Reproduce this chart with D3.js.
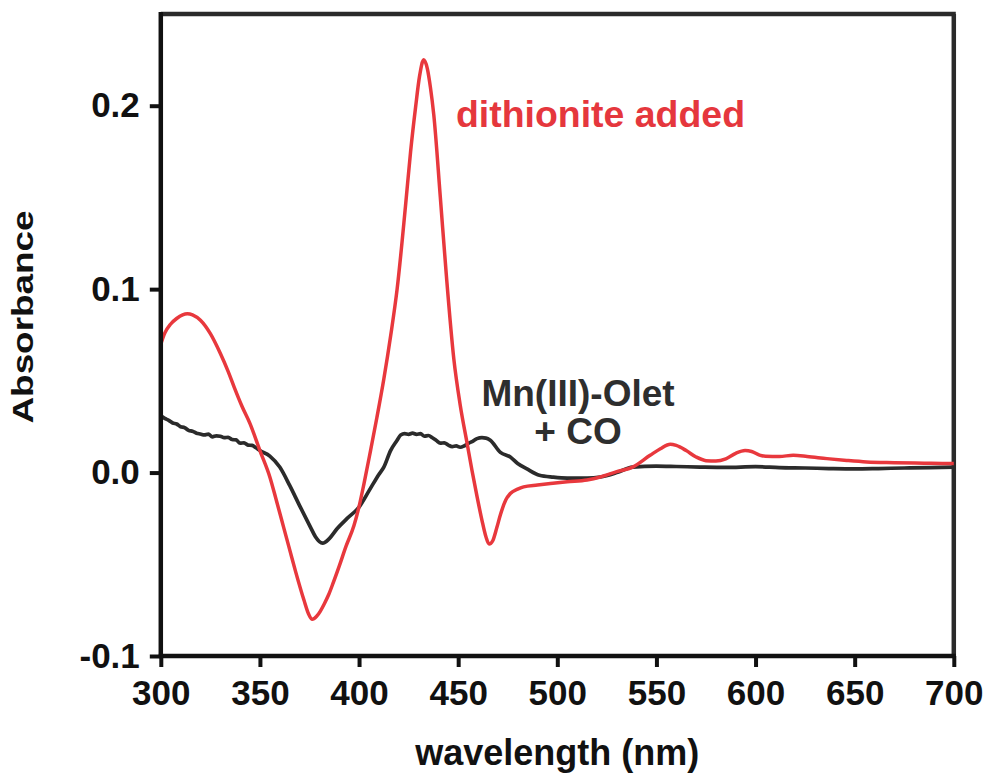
<!DOCTYPE html>
<html>
<head>
<meta charset="utf-8">
<script src="https://cdn.jsdelivr.net/npm/d3@7"></script>
<style>
  html, body { margin: 0; padding: 0; background: #fff; }
  svg { display: block; }
  text { font-family: "Liberation Sans", Arial, Helvetica, sans-serif; font-weight: bold; }
</style>
</head>
<body>
<div id="chart"></div>
<script>
// ---- data ----
const xTicks = [300, 350, 400, 450, 500, 550, 600, 650, 700];
const yTicks = [-0.1, 0.0, 0.1, 0.2];
const yTickLabels = ["-0.1", "0.0", "0.1", "0.2"];

const redWavelength = [300, 302, 305, 308, 311, 313.4, 316, 320, 325, 330, 334, 337, 341, 345, 350, 355, 358, 362, 365, 368, 372.2, 374.5, 376.4, 378.5, 380.5, 382.5, 384.7, 387, 390, 393.5, 397.4, 399.9, 402.5, 405.8, 409, 412.5, 416, 419.2, 423.4, 426, 428.5, 430.5, 432.6, 434.5, 436, 437.7, 441, 444, 447.8, 451, 454.5, 457, 459.5, 462, 464, 465.6, 467.5, 469.5, 471.3, 474, 476.3, 480, 483, 490, 496.5, 505, 515, 521.7, 530, 538, 546.8, 552, 557, 560, 565, 570, 575, 580, 585, 590, 594.7, 598, 602, 605, 612, 619, 626, 636, 646, 656, 670, 685, 698, 700];
const redAbsorbance = [0.070, 0.076, 0.081, 0.084, 0.086, 0.0866, 0.086, 0.083, 0.0757, 0.065, 0.055, 0.0466, 0.036, 0.0267, 0.012, -0.0024, -0.014, -0.030, -0.042, -0.054, -0.0695, -0.077, -0.080, -0.0785, -0.0755, -0.0715, -0.0665, -0.060, -0.051, -0.040, -0.029, -0.019, -0.006, 0.012, 0.030, 0.051, 0.075, 0.100, 0.145, 0.175, 0.199, 0.216, 0.225, 0.220, 0.210, 0.195, 0.150, 0.108, 0.062, 0.037, 0.016, 0.001, -0.013, -0.026, -0.035, -0.039, -0.037, -0.030, -0.023, -0.015, -0.0114, -0.009, -0.0078, -0.0068, -0.006, -0.005, -0.004, -0.0024, 0.0005, 0.003, 0.0094, 0.013, 0.0155, 0.0148, 0.012, 0.0085, 0.0065, 0.0063, 0.0075, 0.0105, 0.012, 0.0115, 0.0095, 0.0089, 0.0088, 0.0094, 0.0088, 0.0076, 0.0066, 0.0058, 0.0054, 0.0051, 0.0049, 0.0049];

const blackWavelength = [300, 302, 304, 306, 308, 310, 312, 314, 316, 318, 320, 322, 324, 326, 328, 330, 332, 334, 336, 338, 340, 342, 344, 346, 348, 350, 355, 360, 365, 370, 375.6, 378, 381.6, 385, 389, 394, 399.9, 405, 410, 412.5, 415.9, 419.2, 421, 423, 425, 427, 429, 431, 433, 435, 437, 439, 441, 443, 445, 447, 449, 451, 453, 455.3, 457.5, 459.5, 462, 464, 466.2, 471.3, 476.3, 480, 484.7, 491, 498, 505, 515, 521.7, 530, 538, 550, 560, 572, 585, 600, 612, 625, 637, 650, 662, 675, 688, 700];
const blackAbsorbance = [0.031, 0.0295, 0.0285, 0.027, 0.0265, 0.025, 0.0245, 0.023, 0.0225, 0.0215, 0.021, 0.0205, 0.021, 0.0195, 0.020, 0.0198, 0.019, 0.0192, 0.018, 0.0178, 0.016, 0.0162, 0.015, 0.0148, 0.0135, 0.012, 0.009, 0.003, -0.007, -0.018, -0.030, -0.035, -0.0385, -0.036, -0.0305, -0.025, -0.019, -0.010, -0.001, 0.003, 0.012, 0.0176, 0.0205, 0.0212, 0.0208, 0.0215, 0.0208, 0.0212, 0.0198, 0.0202, 0.019, 0.0175, 0.016, 0.0162, 0.015, 0.0142, 0.0145, 0.0138, 0.0145, 0.016, 0.0172, 0.0185, 0.019, 0.0188, 0.0176, 0.011, 0.0085, 0.005, 0.002, -0.0015, -0.0025, -0.003, -0.003, -0.0024, 0.000, 0.003, 0.0035, 0.0033, 0.003, 0.0028, 0.0032, 0.0027, 0.0025, 0.0022, 0.002, 0.0022, 0.0025, 0.0027, 0.003];

const xTitle = "wavelength (nm)";
const yTitle = "Absorbance";
const redLabel = "dithionite added";
const blackLabel = ["Mn(III)-Olet", "+ CO"];

// ---- layout ----
const W = 989, H = 776;
const mLeft = 160.8, mRight = 953.8, mTop = 14, mBottom = 656;

const svg = d3.select("#chart").append("svg").attr("width", W).attr("height", H);

const x = d3.scaleLinear().domain([300, 700]).range([mLeft, mRight]);
const y = d3.scaleLinear().domain([-0.1, 0.25]).range([mBottom, mTop]);

// frame top/right
svg.append("line").attr("x1", mLeft).attr("x2", mRight + 2).attr("y1", mTop).attr("y2", mTop)
  .attr("stroke", "#2a2a2a").attr("stroke-width", 4.5);
svg.append("line").attr("x1", mRight).attr("x2", mRight).attr("y1", mTop).attr("y2", mBottom)
  .attr("stroke", "#2a2a2a").attr("stroke-width", 4.5);

// curves
const redData = redWavelength.map((w, i) => [w, redAbsorbance[i]]);
const blackData = blackWavelength.map((w, i) => [w, blackAbsorbance[i]]);
const line = d3.line().x(d => x(d[0])).y(d => y(d[1])).curve(d3.curveMonotoneX);

svg.append("path").datum(blackData).attr("d", line)
  .attr("fill", "none").attr("stroke", "#2b2b2b").attr("stroke-width", 3.7).attr("stroke-linejoin", "round");
svg.append("path").datum(redData).attr("d", line)
  .attr("fill", "none").attr("stroke", "#e8383d").attr("stroke-width", 3.5).attr("stroke-linejoin", "round");

// axes
const xAxis = d3.axisBottom(x).tickValues(xTicks).tickFormat(d3.format("d")).tickSize(11).tickPadding(13).tickSizeOuter(0);
const gx = svg.append("g").attr("transform", `translate(0,${mBottom})`).call(xAxis);
const yAxis = d3.axisLeft(y).tickValues(yTicks).tickFormat((d, i) => yTickLabels[i]).tickSize(11).tickPadding(10).tickSizeOuter(0);
const gy = svg.append("g").attr("transform", `translate(${mLeft},0)`).call(yAxis);

[gx, gy].forEach(g => {
  g.select(".domain").attr("stroke", "#111").attr("stroke-width", 4.5);
  g.selectAll(".tick line").attr("stroke", "#111").attr("stroke-width", 4);
  g.selectAll(".tick text").attr("fill", "#111").style("font-size", "35px")
    .style("font-family", '"Liberation Sans", Arial, sans-serif').style("font-weight", "bold");
});
gx.select(".domain").attr("d", `M${mLeft - 2},0H${mRight + 2}`);
gy.select(".domain").attr("d", `M0,${mBottom + 2}V${mTop - 2}`);

// titles
svg.append("text").attr("x", (mLeft + mRight) / 2).attr("y", 765).attr("text-anchor", "middle")
  .style("font-size", "36px").attr("fill", "#111").text(xTitle);
svg.append("text").attr("transform", "translate(33,317) rotate(-90)").attr("text-anchor", "middle")
  .style("font-size", "30px").attr("fill", "#111")
  .attr("textLength", 213).attr("lengthAdjust", "spacingAndGlyphs").text(yTitle);

// annotations
svg.append("text").attr("x", 456).attr("y", 127).style("font-size", "37px")
  .attr("fill", "#e5373d").attr("textLength", 289).attr("lengthAdjust", "spacingAndGlyphs").text(redLabel);
svg.append("text").attr("x", 578).attr("y", 406).attr("text-anchor", "middle")
  .style("font-size", "37px").attr("fill", "#2e2e2e").text(blackLabel[0]);
svg.append("text").attr("x", 578).attr("y", 444).attr("text-anchor", "middle")
  .style("font-size", "37px").attr("fill", "#2e2e2e").text(blackLabel[1]);
</script>
</body>
</html>
